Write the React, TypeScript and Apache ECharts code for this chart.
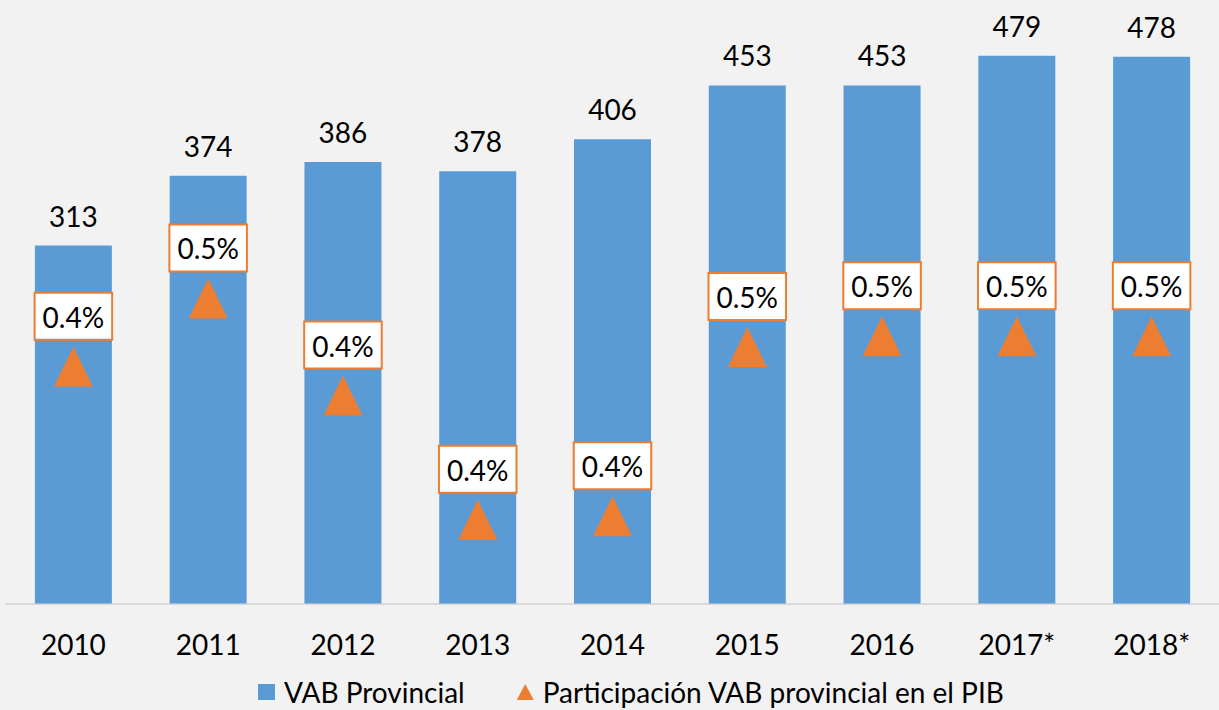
import React, { useEffect, useRef } from "react";
import * as echarts from "echarts";

const categories = ["2010", "2011", "2012", "2013", "2014", "2015", "2016", "2017*", "2018*"];
const vabProvincial = [313, 374, 386, 378, 406, 453, 453, 479, 478];
const participacionPIB = [0.444, 0.482, 0.428, 0.359, 0.361, 0.455, 0.461, 0.461, 0.461];
const seriesNames = ["VAB Provincial", "Participación VAB provincial en el PIB"];

const FONT = "Lato, 'Open Sans', sans-serif";

export default function App() {
  const ref = useRef<HTMLDivElement>(null);
  useEffect(() => {
    if (!ref.current) return;
    const chart = echarts.init(ref.current, null, { renderer: "svg" });
    chart.setOption({
      animation: false,
      backgroundColor: "#F2F2F2",
      textStyle: { fontFamily: FONT },
      grid: { left: 6, top: 31.7, width: 1219.5, height: 571.8, containLabel: false },
      legend: {
        left: 258,
        top: 678,
        padding: 0,
        itemWidth: 17,
        itemHeight: 16,
        itemGap: 52,
        textStyle: { fontFamily: FONT, fontSize: 28, color: "#000", lineHeight: 28, padding: [0, 0, 0, 4] },
        data: [
          { name: seriesNames[0], icon: "rect" },
          { name: seriesNames[1], icon: "triangle" },
        ],
      },
      xAxis: {
        type: "category",
        data: categories,
        axisLine: { lineStyle: { color: "#D9D9D9", width: 2 } },
        axisTick: { show: false },
        axisLabel: { fontFamily: FONT, fontSize: 28, color: "#000", margin: 26, lineHeight: 28 },
      },
      yAxis: [
        { type: "value", min: 0, max: 500, show: false, splitLine: { show: false } },
        { type: "value", min: 0.3125, max: 0.6302, show: false, splitLine: { show: false } },
      ],
      series: [
        {
          name: seriesNames[0],
          type: "bar",
          data: vabProvincial,
          barWidth: 77,
          itemStyle: { color: "#5B9BD5" },
          label: {
            show: true,
            position: "top",
            distance: 16,
            fontFamily: FONT,
            fontSize: 28,
            lineHeight: 28,
            color: "#000",
          },
        },
        {
          name: seriesNames[1],
          type: "scatter",
          yAxisIndex: 1,
          data: participacionPIB,
          symbol: "triangle",
          symbolSize: [39, 40],
          itemStyle: { color: "#ED7D31", opacity: 1 },
          label: {
            show: true,
            position: "top",
            distance: 8,
            formatter: (p: any) => Number(p.value).toFixed(1) + "%",
            fontFamily: FONT,
            fontSize: 28,
            lineHeight: 30,
            color: "#000",
            backgroundColor: "#FFFFFF",
            borderColor: "#ED7D31",
            borderWidth: 2,
            padding: [8, 7, 7, 7],
          },
        },
      ],
    });
    return () => chart.dispose();
  }, []);
  return (
    <div
      ref={ref}
      style={{ position: "fixed", left: 0, top: 0, width: 1219, height: 710 }}
    />
  );
}
